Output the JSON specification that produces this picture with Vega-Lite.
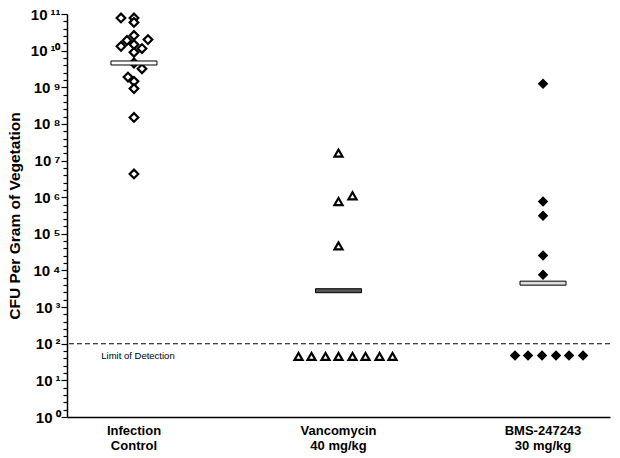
{
  "$schema": "https://vega.github.io/schema/vega-lite/v6.json",
  "width": 543,
  "height": 403,
  "autosize": "none",
  "padding": {"left": 67, "top": 14, "right": 10, "bottom": 41},
  "background": "white",
  "config": {"view": {"stroke": null}, "font": "Liberation Sans"},
  "datasets": {
    "points": [
      {"group": "Infection Control", "cfu": 7.8e10, "jitter": -13},
      {"group": "Infection Control", "cfu": 7.8e10, "jitter": 0},
      {"group": "Infection Control", "cfu": 5.9e10, "jitter": 0},
      {"group": "Infection Control", "cfu": 2.6e10, "jitter": 0},
      {"group": "Infection Control", "cfu": 1.9e10, "jitter": -7},
      {"group": "Infection Control", "cfu": 2.0e10, "jitter": 14},
      {"group": "Infection Control", "cfu": 1.31e10, "jitter": -13},
      {"group": "Infection Control", "cfu": 1.46e10, "jitter": 0},
      {"group": "Infection Control", "cfu": 1.14e10, "jitter": 8},
      {"group": "Infection Control", "cfu": 9.0e9, "jitter": 0},
      {"group": "Infection Control", "cfu": 4.6e9, "jitter": 0},
      {"group": "Infection Control", "cfu": 3.2e9, "jitter": 8},
      {"group": "Infection Control", "cfu": 1.9e9, "jitter": -6},
      {"group": "Infection Control", "cfu": 1.45e9, "jitter": 0},
      {"group": "Infection Control", "cfu": 9.2e8, "jitter": 0},
      {"group": "Infection Control", "cfu": 1.5e8, "jitter": 0},
      {"group": "Infection Control", "cfu": 4.3e6, "jitter": 0},
      {"group": "Vancomycin 40 mg/kg", "cfu": 1.6e7, "jitter": 0},
      {"group": "Vancomycin 40 mg/kg", "cfu": 1.09e6, "jitter": 14},
      {"group": "Vancomycin 40 mg/kg", "cfu": 7.6e5, "jitter": 0},
      {"group": "Vancomycin 40 mg/kg", "cfu": 4.7e4, "jitter": 0},
      {"group": "Vancomycin 40 mg/kg", "cfu": 45, "jitter": -40},
      {"group": "Vancomycin 40 mg/kg", "cfu": 45, "jitter": -27},
      {"group": "Vancomycin 40 mg/kg", "cfu": 45, "jitter": -13},
      {"group": "Vancomycin 40 mg/kg", "cfu": 45, "jitter": 0},
      {"group": "Vancomycin 40 mg/kg", "cfu": 45, "jitter": 14},
      {"group": "Vancomycin 40 mg/kg", "cfu": 45, "jitter": 27},
      {"group": "Vancomycin 40 mg/kg", "cfu": 45, "jitter": 41},
      {"group": "Vancomycin 40 mg/kg", "cfu": 45, "jitter": 54},
      {"group": "BMS-247243 30 mg/kg", "cfu": 1.25e9, "jitter": 0},
      {"group": "BMS-247243 30 mg/kg", "cfu": 7.6e5, "jitter": 0},
      {"group": "BMS-247243 30 mg/kg", "cfu": 3.1e5, "jitter": 0},
      {"group": "BMS-247243 30 mg/kg", "cfu": 2.55e4, "jitter": 0},
      {"group": "BMS-247243 30 mg/kg", "cfu": 7.6e3, "jitter": 0},
      {"group": "BMS-247243 30 mg/kg", "cfu": 48, "jitter": -28},
      {"group": "BMS-247243 30 mg/kg", "cfu": 48, "jitter": -15},
      {"group": "BMS-247243 30 mg/kg", "cfu": 48, "jitter": -1},
      {"group": "BMS-247243 30 mg/kg", "cfu": 48, "jitter": 13},
      {"group": "BMS-247243 30 mg/kg", "cfu": 48, "jitter": 26},
      {"group": "BMS-247243 30 mg/kg", "cfu": 48, "jitter": 40}
    ],
    "means": [
      {"group": "Infection Control", "cfu": 4.6e9},
      {"group": "Vancomycin 40 mg/kg", "cfu": 2.8e3},
      {"group": "BMS-247243 30 mg/kg", "cfu": 4.5e3}
    ],
    "limit": [{"cfu": 100}],
    "notes": [{"group": "Infection Control", "cfu": 46, "note": "Limit of Detection"}]
  },
  "layer": [
    {
      "data": {"name": "points"},
      "mark": {"type": "point", "stroke": "black", "strokeWidth": 2.2, "opacity": 1, "fillOpacity": 1},
      "encoding": {
        "x": {
          "field": "group",
          "type": "nominal",
          "sort": ["Infection Control", "Vancomycin 40 mg/kg", "BMS-247243 30 mg/kg"],
          "scale": {"type": "band", "domain": ["Infection Control", "Vancomycin 40 mg/kg", "BMS-247243 30 mg/kg"], "paddingInner": 0.6, "paddingOuter": 0.1275},
          "axis": {
            "title": null,
            "ticks": false,
            "domainColor": "black",
            "domainWidth": 1.5,
            "labelAngle": 0,
            "labelFontSize": 13,
            "labelFontWeight": "bold",
            "labelColor": "black",
            "labelPadding": 7,
            "labelLineHeight": 15,
            "labelExpr": "datum.value == 'Infection Control' ? ['Infection', 'Control'] : datum.value == 'Vancomycin 40 mg/kg' ? ['Vancomycin', '40 mg/kg'] : ['BMS-247243', '30 mg/kg']"
          }
        },
        "xOffset": {"field": "jitter", "type": "quantitative", "scale": {"domain": [-40.9, 40.9]}},
        "y": {
          "field": "cfu",
          "type": "quantitative",
          "title": "CFU Per Gram of Vegetation",
          "scale": {"type": "log", "domain": [1, 1e11], "nice": false},
          "axis": {
            "grid": false,
            "domainColor": "black",
            "domainWidth": 1.5,
            "tickColor": "black",
            "tickWidth": 1.2,
            "tickSize": {"condition": {"test": "abs(log(datum.value)/LN10 - round(log(datum.value)/LN10)) < 0.01", "value": 6}, "value": 4},
            "values": [1, 1.585, 2.512, 3.981, 6.31, 10, 15.85, 25.12, 39.81, 63.1, 100, 158.5, 251.2, 398.1, 631, 1000, 1585, 2512, 3981, 6310, 10000, 15850, 25120, 39810, 63100, 1e5, 1.585e5, 2.512e5, 3.981e5, 6.31e5, 1e6, 1.585e6, 2.512e6, 3.981e6, 6.31e6, 1e7, 1.585e7, 2.512e7, 3.981e7, 6.31e7, 1e8, 1.585e8, 2.512e8, 3.981e8, 6.31e8, 1e9, 1.585e9, 2.512e9, 3.981e9, 6.31e9, 1e10, 1.585e10, 2.512e10, 3.981e10, 6.31e10, 1e11],
            "labelExpr": "abs(log(datum.value)/LN10 - round(log(datum.value)/LN10)) < 0.01 ? '10' + '\u2009' + (round(log(datum.value)/LN10) >= 10 ? '¹' + ['⁰','¹','²','³','⁴','⁵','⁶','⁷','⁸','⁹'][round(log(datum.value)/LN10) - 10] : ['⁰','¹','²','³','⁴','⁵','⁶','⁷','⁸','⁹'][round(log(datum.value)/LN10)]) : ''",
            "labelOverlap": false,
            "labelFlush": false,
            "labelFontSize": 15,
            "labelFontWeight": "bold",
            "labelColor": "black",
            "labelPadding": 1,
            "titleFontSize": 15.5,
            "titleFontWeight": "bold",
            "titleColor": "black",
            "titlePadding": 8
          }
        },
        "shape": {"field": "group", "type": "nominal", "legend": null, "scale": {"domain": ["Infection Control", "Vancomycin 40 mg/kg", "BMS-247243 30 mg/kg"], "range": ["diamond", "triangle-up", "diamond"]}},
        "fill": {"field": "group", "type": "nominal", "legend": null, "scale": {"domain": ["Infection Control", "Vancomycin 40 mg/kg", "BMS-247243 30 mg/kg"], "range": ["white", "white", "black"]}},
        "size": {"field": "group", "type": "nominal", "legend": null, "scale": {"domain": ["Infection Control", "Vancomycin 40 mg/kg", "BMS-247243 30 mg/kg"], "range": [75, 55, 60]}}
      }
    },
    {
      "data": {"name": "means"},
      "mark": {"type": "tick", "thickness": 4, "size": 46, "stroke": "black", "strokeWidth": 1, "opacity": 1},
      "encoding": {
        "x": {"field": "group", "type": "nominal", "sort": ["Infection Control", "Vancomycin 40 mg/kg", "BMS-247243 30 mg/kg"]},
        "y": {"field": "cfu", "type": "quantitative", "title": "CFU Per Gram of Vegetation"},
        "color": {"field": "group", "type": "nominal", "legend": null, "scale": {"domain": ["Infection Control", "Vancomycin 40 mg/kg", "BMS-247243 30 mg/kg"], "range": ["white", "#555555", "#dddddd"]}}
      }
    },
    {
      "data": {"name": "limit"},
      "mark": {"type": "rule", "color": "black", "strokeWidth": 1.2, "strokeDash": [5, 3]},
      "encoding": {
        "y": {"field": "cfu", "type": "quantitative", "title": "CFU Per Gram of Vegetation"}
      }
    },
    {
      "data": {"name": "notes"},
      "mark": {"type": "text", "fontSize": 9.5, "color": "black", "align": "center", "baseline": "middle", "dx": 4},
      "encoding": {
        "x": {"field": "group", "type": "nominal", "sort": ["Infection Control", "Vancomycin 40 mg/kg", "BMS-247243 30 mg/kg"]},
        "y": {"field": "cfu", "type": "quantitative", "title": "CFU Per Gram of Vegetation"},
        "text": {"field": "note", "type": "nominal"}
      }
    }
  ],
  "resolve": {"scale": {"size": "independent", "shape": "independent", "fill": "independent", "color": "independent"}}
}
